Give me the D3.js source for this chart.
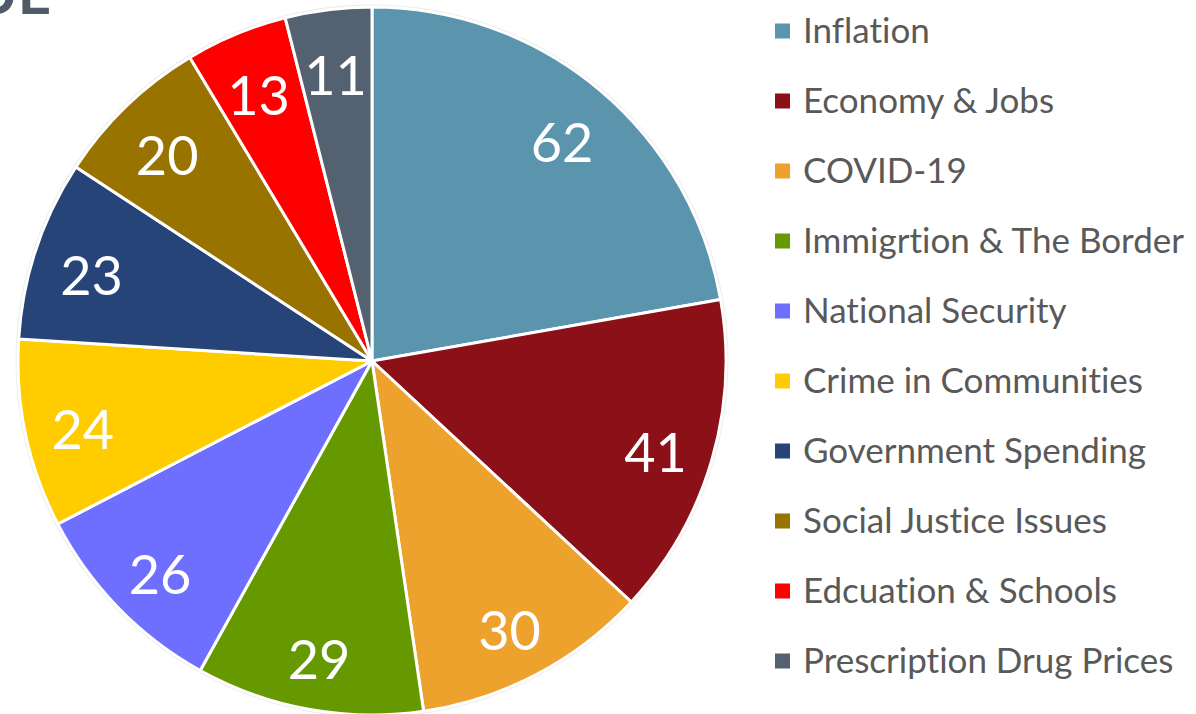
<!DOCTYPE html>
<html lang="en">
<head>
    <meta charset="UTF-8">
    <title>Top Issues Pie</title>
    <script src="https://d3js.org/d3.v7.min.js"></script>
    <style>
        body {
            margin: 0;
            background: #fff;
            font-family: Lato, "Open Sans", sans-serif;
        }
        svg text {
            font-variant-ligatures: none;
            font-feature-settings: "liga" 0;
        }
    </style>
</head>
<body>
    <div id="chart"></div>

    <script>
        // data
        const issues = [
            "Inflation", "Economy & Jobs", "COVID-19", "Immigrtion & The Border",
            "National Security", "Crime in Communities", "Government Spending",
            "Social Justice Issues", "Edcuation & Schools", "Prescription Drug Prices"
        ];
        const counts = [62, 41, 30, 29, 26, 24, 23, 20, 13, 11];
        const colors = [
            "#5b95ad", "#8b1018", "#eda22e", "#669900", "#6f6fff",
            "#ffcc00", "#264478", "#997300", "#ff0000", "#546170"
        ];
        const titleText = "ISSUE";

        const W = 1196, H = 714;
        const svg = d3.select("#chart").append("svg")
            .attr("width", W)
            .attr("height", H);

        // title sits mostly above the visible area (cut off like the original)
        svg.append("text")
            .attr("x", 51)
            .attr("y", 14)
            .attr("text-anchor", "end")
            .attr("font-size", 58)
            .attr("font-weight", "bold")
            .attr("fill", "#4f5b66")
            .text(titleText);

        const cx = 372, cy = 361, R = 354;
        const g = svg.append("g").attr("transform", `translate(${cx},${cy})`);

        const data = issues.map((name, i) => ({ name, value: counts[i], color: colors[i] }));

        const pie = d3.pie().sort(null).value(d => d.value);
        const arc = d3.arc().innerRadius(0).outerRadius(R);
        const labelArc = d3.arc().innerRadius(R * 0.835).outerRadius(R * 0.835);

        // faint outline behind the pie
        g.append("circle")
            .attr("r", R + 1)
            .attr("fill", "none")
            .attr("stroke", "#ededed")
            .attr("stroke-width", 3);

        const arcs = pie(data);

        g.selectAll("path.slice")
            .data(arcs)
            .join("path")
            .attr("class", "slice")
            .attr("d", arc)
            .attr("fill", d => d.data.color)
            .attr("stroke", "#fff")
            .attr("stroke-width", 3)
            .attr("stroke-linejoin", "round");

        g.selectAll("text.val")
            .data(arcs)
            .join("text")
            .attr("class", "val")
            .attr("transform", d => `translate(${labelArc.centroid(d)})`)
            .attr("text-anchor", "middle")
            .attr("dy", "0.5em")
            .attr("font-size", 54)
            .attr("fill", "#fff")
            .text(d => d.data.value);

        // legend
        const legendY = d3.scalePoint()
            .domain(issues)
            .range([31, 661]);

        const legend = svg.append("g");
        const item = legend.selectAll("g")
            .data(data)
            .join("g")
            .attr("transform", d => `translate(775,${legendY(d.name)})`);

        item.append("rect")
            .attr("x", 0)
            .attr("y", -7.5)
            .attr("width", 15)
            .attr("height", 15)
            .attr("fill", d => d.color);

        item.append("text")
            .attr("x", 28)
            .attr("dy", "0.35em")
            .attr("font-size", 35)
            .attr("fill", "#595959")
            .text(d => d.name);
    </script>
</body>
</html>
